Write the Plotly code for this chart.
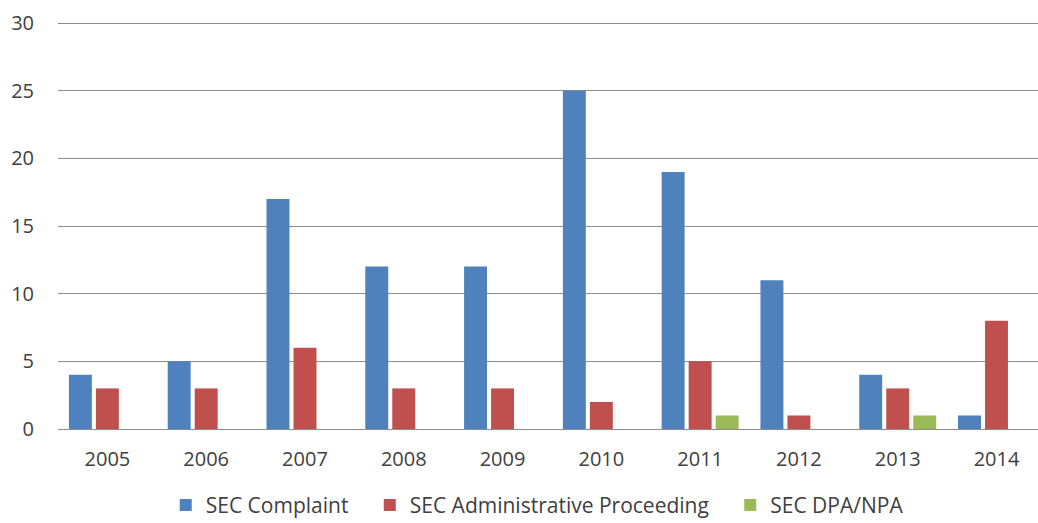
import plotly.graph_objects as go

years = ["2005", "2006", "2007", "2008", "2009", "2010", "2011", "2012", "2013", "2014"]
sec_complaint = [4, 5, 17, 12, 12, 25, 19, 11, 4, 1]
sec_admin = [3, 3, 6, 3, 3, 2, 5, 1, 3, 8]
sec_dpa_npa = [0, 0, 0, 0, 0, 0, 1, 0, 1, 0]

series = [
    ("SEC Complaint", sec_complaint, "#4F81BD"),
    ("SEC Administrative Proceeding", sec_admin, "#C0504D"),
    ("SEC DPA/NPA", sec_dpa_npa, "#9BBB59"),
]

# extra non-breaking spaces widen the gap between legend entries
pad = "\u00a0" * 3

fig = go.Figure()
for i, (name, vals, color) in enumerate(series):
    label = name + (pad if i < len(series) - 1 else "")
    fig.add_trace(go.Bar(x=years, y=vals, name=label,
                         marker=dict(color=color, line=dict(width=0))))

font_family = "Open Sans, Noto Sans, sans-serif"
y_top = 30.3
fig.update_layout(
    width=1038, height=523,
    margin=dict(l=58, r=0, t=19, b=94, autoexpand=False),
    paper_bgcolor="white", plot_bgcolor="white",
    barmode="group", bargap=0.18, bargroupgap=0.15,
    font=dict(family=font_family, size=20, color="#404040"),
    showlegend=True,
    legend=dict(orientation="h", x=0.489, xanchor="center",
                yref="container", y=0.073, yanchor="top",
                font=dict(size=21, color="#404040"), itemwidth=30, traceorder="normal"),
    xaxis=dict(type="category", range=[-0.5, 9.42], showgrid=False, showline=False,
               ticks="", tickfont=dict(size=20), ticklabelstandoff=16),
    yaxis=dict(range=[0, y_top], tickvals=[0, 5, 10, 15, 20, 25, 30], showgrid=True,
               gridcolor="#8C8C8C", gridwidth=1.3,
               zeroline=True, zerolinecolor="#8C8C8C", zerolinewidth=1.3,
               showline=False, ticks="", tickfont=dict(size=20), ticklabelstandoff=23),
)

fig.write_html("out.html")
